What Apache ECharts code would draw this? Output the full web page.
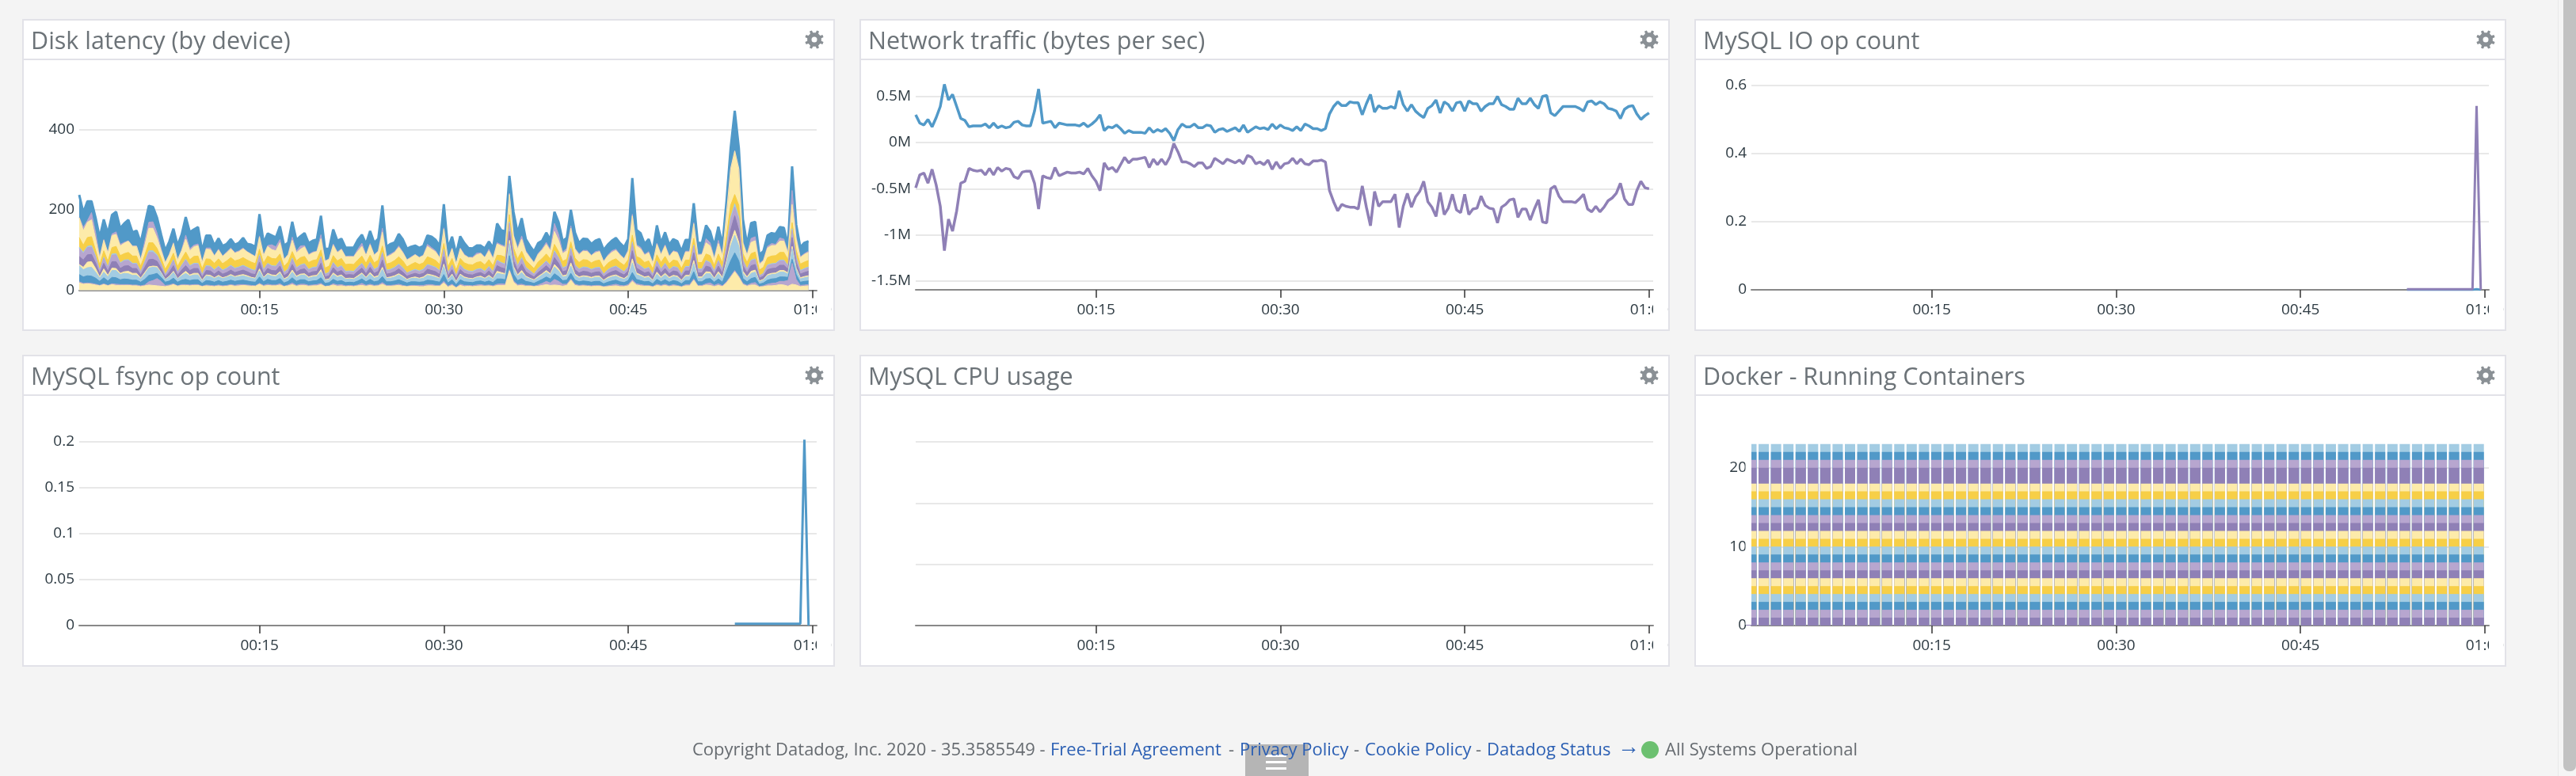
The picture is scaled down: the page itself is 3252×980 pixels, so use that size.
<!DOCTYPE html>
<html><head><meta charset="utf-8"><style>html,body{margin:0;padding:0;background:#f4f4f4;overflow:hidden}#c{width:3252px;height:980px}</style>
<script src="https://cdn.jsdelivr.net/npm/echarts@6/dist/echarts.min.js"></script></head><body><div id="c"></div><script>
const panelTitles=['Disk latency (by device)','Network traffic (bytes per sec)','MySQL IO op count','MySQL fsync op count','MySQL CPU usage','Docker - Running Containers'];
const xTicks=[15,30,45,60];
const diskTotal=[237,193,221,221,180,131,176,141,187,195,154,166,175,144,148,118,164,210,207,180,138,98,121,153,111,138,182,144,151,157,98,136,136,111,129,110,115,127,113,118,130,115,113,108,189,118,141,136,131,159,111,118,170,125,134,142,117,123,126,185,103,103,151,123,128,106,106,106,125,138,115,147,118,128,211,108,115,119,140,126,103,108,111,105,110,136,133,125,110,214,105,133,90,134,117,105,104,111,111,104,121,105,166,149,146,284,195,142,179,127,110,96,117,123,143,125,195,169,122,130,200,143,117,128,127,115,123,127,100,113,123,130,117,107,127,279,150,142,115,127,96,161,117,144,113,127,122,97,125,125,216,117,118,161,146,110,158,113,222,353,446,353,176,113,167,170,88,97,136,142,140,157,155,110,308,163,107,118,122];
const diskL0=[18,15,16,15,13,11,14,11,14,12,12,12,12,11,11,9,11,13,12,11,10,9,11,14,10,12,12,11,12,12,9,11,10,9,11,9,10,12,10,11,12,11,10,10,15,10,12,11,11,13,9,11,14,10,12,12,10,11,11,14,9,10,13,10,11,9,10,9,11,12,10,12,10,11,15,10,10,11,12,10,9,10,10,9,9,11,11,10,10,18,8,12,6,12,9,10,9,10,11,10,11,9,12,12,12,48,20,11,12,10,10,9,10,12,14,12,13,12,10,12,25,12,10,11,10,9,10,10,8,9,10,11,9,9,11,22,13,11,10,10,8,12,10,12,9,11,10,8,11,11,25,10,10,13,12,9,12,9,18,32,46,32,14,10,13,13,8,9,11,11,12,14,13,10,15,13,9,10,11];
const diskL1=[3,2,2,2,2,1,2,1,2,3,2,2,2,2,2,2,2,8,12,18,12,3,2,2,1,2,2,2,2,2,1,2,2,2,2,2,2,2,2,3,2,2,2,1,2,2,3,2,2,3,1,2,4,2,3,3,2,2,3,3,1,1,3,3,3,2,2,2,2,5,2,3,2,2,4,2,2,2,3,2,1,2,2,3,3,3,3,2,2,4,2,3,1,3,3,2,2,3,3,2,2,2,3,4,3,3,3,3,3,2,2,1,3,5,8,6,14,10,5,3,3,3,2,2,2,2,2,2,1,2,3,4,3,2,3,4,3,3,2,2,1,3,2,3,2,3,2,1,3,3,3,2,2,3,6,3,4,2,3,3,3,3,3,2,4,6,1,2,4,6,6,8,9,14,52,14,3,3,3];
const diskL2=[18,16,18,18,15,10,15,11,16,16,12,14,13,12,12,9,14,16,15,13,10,8,10,14,9,11,13,11,12,12,7,11,11,9,11,9,10,11,10,10,11,10,9,9,16,9,12,11,11,13,8,9,13,10,11,11,9,10,10,14,7,8,11,9,10,8,8,8,10,11,9,12,9,10,15,9,9,10,11,10,8,9,9,8,9,11,10,10,8,17,8,11,7,11,9,8,8,9,9,8,10,8,13,12,11,35,17,10,14,10,8,7,9,10,11,10,14,12,9,10,14,10,9,10,10,9,10,10,7,9,10,10,9,8,10,18,11,10,9,10,7,12,9,11,9,10,10,7,10,10,18,9,9,12,11,8,12,9,26,38,44,38,12,9,12,13,6,7,10,11,11,11,11,8,10,12,8,9,9];
const diskL3=[22,18,20,22,15,8,14,10,17,18,13,14,14,12,12,8,13,18,18,14,10,6,10,14,8,11,15,11,12,12,6,11,11,9,10,9,10,11,10,10,11,10,9,8,15,9,12,11,10,13,8,9,14,10,11,12,9,10,10,15,7,7,12,10,11,8,8,8,10,12,9,13,9,10,18,8,9,10,12,10,7,8,9,8,9,12,11,10,8,20,7,11,6,11,9,8,8,9,9,8,11,8,14,12,12,30,14,11,15,10,8,7,9,11,12,10,17,14,9,10,18,11,9,10,10,9,10,10,7,9,10,10,9,8,10,24,12,11,9,10,7,13,9,12,9,10,10,7,10,10,20,9,9,13,12,8,13,9,20,36,44,36,13,9,13,13,6,7,11,11,11,12,12,8,26,12,8,9,10];
const diskL4=[3,6,14,14,9,3,8,4,6,5,3,4,6,5,5,2,4,3,3,3,2,1,2,3,1,3,5,3,4,4,2,3,3,2,3,2,2,3,2,3,3,3,2,2,5,2,3,3,3,4,2,3,5,3,3,3,3,3,3,5,2,2,4,3,3,2,2,2,3,3,2,4,3,3,5,2,3,3,3,3,2,2,3,2,3,3,3,3,2,6,2,3,2,3,3,2,2,2,3,2,3,2,5,4,3,8,5,3,5,3,2,2,3,3,4,3,6,5,3,3,8,4,3,3,3,3,3,3,2,3,3,3,3,2,3,10,4,3,3,3,2,5,3,4,3,3,3,2,3,3,8,3,3,5,4,2,5,3,6,10,12,10,5,3,5,5,2,2,3,3,3,4,4,3,6,4,3,3,3];
const diskL5=[20,18,18,18,14,8,14,10,16,17,12,14,14,12,12,8,13,18,17,13,10,6,10,14,8,11,14,11,12,12,7,11,11,9,11,9,10,11,10,10,11,10,9,9,17,9,12,11,11,14,8,9,14,10,11,12,9,10,10,16,7,8,13,10,11,9,9,9,11,12,9,13,9,11,18,9,9,10,12,10,8,8,9,9,9,12,11,11,9,18,8,11,7,11,9,9,9,9,9,8,11,8,14,12,12,22,14,11,16,11,9,7,10,11,12,10,17,14,10,11,18,11,10,11,11,10,10,11,8,9,10,11,10,9,11,20,12,11,10,11,7,14,10,12,9,11,11,8,11,11,19,10,10,14,12,9,14,10,18,30,36,30,14,10,14,14,7,8,12,12,12,13,13,9,22,14,9,10,11];
const diskL6=[20,16,18,18,14,7,13,9,16,17,12,13,13,11,11,7,12,18,17,13,10,5,9,13,7,10,14,10,11,11,6,10,10,9,10,8,9,10,9,9,10,9,9,8,15,8,11,10,10,12,7,8,13,9,10,11,8,9,9,14,6,7,11,9,10,7,7,7,9,10,8,11,8,9,16,8,8,9,10,9,7,7,8,7,8,10,10,9,8,16,7,10,6,10,8,7,7,8,8,7,9,7,12,11,10,20,14,10,13,9,8,6,8,9,10,9,14,12,8,9,16,10,8,9,9,8,9,9,6,8,9,9,8,7,9,18,11,10,8,9,6,12,8,11,8,9,9,6,9,9,17,8,8,12,10,7,12,8,16,26,22,26,12,8,12,12,5,6,10,10,10,11,11,7,18,12,7,8,9];
const diskL7=[3,3,3,4,3,1,2,2,3,3,2,2,2,2,2,1,2,4,4,3,2,1,2,2,1,2,2,2,2,2,1,2,2,2,2,2,2,2,2,2,2,2,2,2,3,2,2,2,2,2,1,2,3,2,2,2,2,2,2,3,1,2,2,2,2,2,2,2,2,2,2,2,2,2,3,2,2,2,2,2,1,2,2,2,2,2,2,2,2,3,1,2,1,2,2,2,2,2,2,2,2,2,2,2,2,4,3,2,3,2,2,1,2,2,2,2,3,2,2,2,3,2,2,2,2,2,2,2,1,2,2,2,2,1,2,4,2,2,2,2,1,2,2,2,2,2,2,1,2,2,3,2,2,2,2,2,2,2,4,6,8,6,2,2,2,2,1,1,2,2,2,2,2,2,4,2,2,2,2];
const diskL8=[24,18,22,22,14,14,16,14,16,18,18,16,18,18,18,14,16,20,20,16,14,13,14,16,14,16,18,15,17,18,14,17,17,16,18,16,18,19,18,18,19,18,18,17,14,16,18,18,18,16,15,17,16,17,18,18,17,17,18,16,15,15,17,17,18,17,17,17,17,18,16,17,16,17,16,15,16,17,18,17,15,16,17,16,16,19,18,17,15,14,15,16,14,16,16,16,16,17,17,16,17,15,12,17,17,18,15,17,16,17,15,14,16,16,17,16,16,15,16,17,15,17,16,18,18,16,17,18,15,16,17,18,16,16,17,17,16,18,16,16,14,15,16,17,15,16,16,14,16,16,16,16,16,16,17,14,16,16,24,30,23,30,16,16,16,17,14,15,18,19,19,19,19,15,15,16,16,16,16];
const diskL9=[49,36,38,42,28,16,26,20,30,30,24,26,28,24,24,16,24,36,36,26,18,16,18,24,16,20,32,22,24,26,16,24,24,18,22,18,20,22,19,20,22,20,19,17,30,19,24,22,20,28,17,18,28,20,21,24,18,19,20,28,17,17,26,20,22,19,18,19,22,24,19,26,19,21,34,17,19,20,24,20,17,17,19,17,18,26,23,21,16,36,17,24,15,24,19,17,17,19,20,18,22,17,28,24,24,50,30,24,30,21,17,14,19,21,24,20,32,28,19,21,34,22,19,21,21,18,20,21,16,18,20,21,18,16,21,48,26,24,18,20,14,26,19,26,17,21,20,14,20,20,36,18,19,28,24,16,26,18,55,90,108,90,26,18,28,28,14,16,24,26,25,28,28,16,45,28,16,19,20];
const diskL10=[1,8,4,18,16,4,2,2,4,6,4,2,1,1,1,1,10,15,16,12,5,1,2,2,1,2,10,5,4,4,1,3,4,1,2,1,2,2,2,2,2,1,1,1,3,1,2,12,10,8,1,1,8,4,8,3,2,2,1,10,1,1,3,2,2,1,2,1,5,8,1,3,1,2,10,2,3,2,3,2,1,2,1,1,1,5,4,3,1,3,2,2,1,2,2,1,2,4,2,1,4,2,3,3,3,3,3,3,8,3,2,1,2,3,5,3,20,15,4,6,6,2,3,2,3,1,3,2,1,2,4,3,2,1,3,4,3,4,2,3,1,3,2,3,2,2,2,1,2,2,3,2,2,10,8,2,8,2,2,2,1,2,3,2,10,10,3,2,4,5,3,8,5,2,35,5,2,2,3];
const netOut=[.30,.21,.19,.25,.17,.27,.39,.63,.46,.52,.39,.26,.24,.17,.18,.18,.18,.20,.16,.21,.16,.18,.16,.17,.22,.23,.19,.18,.18,.34,.58,.21,.22,.23,.16,.21,.20,.19,.19,.19,.18,.21,.17,.20,.24,.30,.13,.17,.16,.19,.15,.10,.13,.11,.11,.11,.10,.16,.11,.14,.12,.15,.10,.02,.14,.20,.17,.17,.20,.16,.16,.19,.18,.11,.14,.15,.12,.14,.16,.12,.19,.11,.14,.17,.15,.16,.14,.20,.15,.19,.16,.15,.13,.17,.13,.20,.18,.15,.15,.13,.15,.31,.39,.44,.40,.40,.44,.43,.43,.30,.42,.52,.33,.40,.37,.37,.39,.37,.56,.41,.34,.41,.34,.30,.27,.37,.40,.46,.32,.44,.41,.34,.43,.44,.34,.45,.42,.42,.34,.39,.42,.42,.50,.41,.39,.36,.36,.48,.42,.42,.48,.41,.37,.50,.51,.32,.29,.34,.39,.39,.39,.39,.37,.34,.44,.45,.41,.44,.42,.37,.36,.34,.26,.36,.39,.40,.31,.25,.29,.32];
const netIn=[-.49,-.35,-.33,-.44,-.29,-.46,-.69,-1.17,-.83,-.96,-.74,-.44,-.42,-.28,-.30,-.31,-.30,-.35,-.28,-.35,-.27,-.31,-.28,-.29,-.37,-.39,-.32,-.31,-.31,-.44,-.72,-.36,-.38,-.39,-.27,-.36,-.34,-.32,-.33,-.33,-.32,-.34,-.28,-.36,-.42,-.52,-.22,-.29,-.27,-.32,-.24,-.16,-.22,-.18,-.18,-.17,-.16,-.27,-.18,-.24,-.18,-.24,-.16,-.01,-.10,-.21,-.21,-.23,-.26,-.22,-.22,-.28,-.26,-.17,-.20,-.23,-.18,-.20,-.22,-.19,-.23,-.14,-.16,-.23,-.21,-.24,-.19,-.29,-.21,-.28,-.23,-.22,-.17,-.23,-.18,-.23,-.24,-.20,-.20,-.19,-.21,-.52,-.64,-.74,-.67,-.69,-.70,-.70,-.72,-.47,-.70,-.90,-.53,-.69,-.64,-.64,-.64,-.56,-.92,-.69,-.55,-.70,-.59,-.53,-.42,-.64,-.70,-.80,-.54,-.78,-.71,-.56,-.73,-.76,-.56,-.78,-.72,-.71,-.58,-.68,-.71,-.72,-.87,-.70,-.67,-.62,-.61,-.81,-.72,-.72,-.84,-.72,-.62,-.86,-.87,-.50,-.47,-.58,-.64,-.64,-.64,-.65,-.61,-.56,-.72,-.75,-.69,-.75,-.70,-.63,-.60,-.55,-.44,-.61,-.67,-.67,-.52,-.42,-.49,-.50];
const opMinutes=[53.67,54,54.33,54.67,55,55.33,55.67,56,56.33,56.67,57,57.33,57.67,58,58.33,58.67,59,59.33,59.67];
const ioPurple=[.002,.002,.002,.002,.002,.002,.002,.002,.002,.002,.002,.002,.002,.002,.002,.002,.002,.54,0];
const ioBlue=[0,0,0,0,0,0,0,0,0,0,0,0,0,0,0,0,0,.002,0];
const fsyncBlue=[.002,.002,.002,.002,.002,.002,.002,.002,.002,.002,.002,.002,.002,.002,.002,.002,.002,.202,0];
const dockerCounts=[1,1,1,1,1,1,1,1,1,1,1,1,1,1,1,1,1,1,2,1,1,1];

const C={blue:'#5199c8',lblue:'#a3cce3',purple:'#8f80b6',lpurple:'#b7a6cf',yellow:'#f7cf47',lyellow:'#fdebaa'};
const diskColors=[C.lyellow,C.lpurple,C.blue,C.lblue,C.lyellow,C.purple,C.lpurple,C.lblue,C.yellow,C.lyellow,C.lpurple,C.blue];
const dockerColors=[];for(let k=0;k<3;k++)dockerColors.push(C.purple,C.lpurple,C.blue,C.lblue,C.yellow,C.lyellow);dockerColors.push(C.purple,C.lpurple,C.blue,C.lblue);

const T0=0.33,STEP=1/3;
const pts=a=>a.map((v,i)=>[T0+i*STEP,v]);
const panels=[[28,24],[1085,24],[2139,24],[28,448],[1085,448],[2139,448]];
const pw=[1026,1023,1025];
const plotL=[100,1156,2211],plotW=931;
const font='"Open Sans"';
const grids=[
 {left:100,width:plotW,top:112.5,height:254},
 {left:1156,width:plotW,top:92.5,height:262.5},
 {left:2211,width:plotW,top:108,height:258},
 {left:100,width:plotW,top:534.5,height:255.5},
 {left:1156,width:plotW,top:558,height:232},
 {left:2211,width:plotW,top:511,height:279}
];
const xa=(i,offset)=>({type:'value',gridIndex:i,min:T0,max:T0+60,offset:offset||0,position:'bottom',
 axisLine:{onZero:false,show:true,lineStyle:{color:'#888',width:2}},
 axisTick:{show:true,length:10,customValues:xTicks,lineStyle:{color:'#333',width:1.5}},
 axisLabel:{show:true,customValues:xTicks,margin:16,hideOverlap:false,showMinLabel:true,showMaxLabel:true,fontFamily:font,fontSize:19,color:'#2d3a42',
   formatter:v=>{const h=Math.floor(v/60),m=v%60;return String(h).padStart(2,'0')+':'+String(m).padStart(2,'0');}},
 splitLine:{show:false}});
const ya=(i,min,max,interval,hideMax,fmt,noLabel)=>({type:'value',gridIndex:i,min,max,interval,
 axisLine:{show:false},axisTick:{show:false},
 axisLabel:{show:!noLabel,margin:6,fontFamily:font,fontSize:19,color:'#2d3a42',showMaxLabel:!hideMax,formatter:fmt||(v=>String(parseFloat(v.toFixed(2))))},
 splitLine:{show:true,showMaxLine:!hideMax,lineStyle:{color:'#e8e8e8',width:2}}});

const diskLayers=[diskL0,diskL1,diskL2,diskL3,diskL4,diskL5,diskL6,diskL7,diskL8,diskL9,diskL10];
const series=[];
// boundaries of the stack, painted from the top band down so each lower band covers the one above
const diskBoundaries=diskLayers.map((_,k)=>diskTotal.map((_t,i)=>diskLayers.slice(0,k+1).reduce((s,l)=>s+l[i],0)));
diskBoundaries.push(diskTotal);
for(let k=diskBoundaries.length-1;k>=0;k--){
  series.push({type:'line',xAxisIndex:0,yAxisIndex:0,data:pts(diskBoundaries[k]),symbol:'none',silent:true,
   lineStyle:{color:diskColors[k],width:k==11?3:1},areaStyle:{color:diskColors[k],opacity:1,origin:'start'},itemStyle:{color:diskColors[k]},z:2});
}
series.push({type:'line',xAxisIndex:1,yAxisIndex:1,data:pts(netOut),symbol:'none',lineStyle:{color:C.blue,width:3.5}});
series.push({type:'line',xAxisIndex:1,yAxisIndex:1,data:pts(netIn),symbol:'none',lineStyle:{color:C.purple,width:3.5}});
const opPts=a=>a.map((v,i)=>[opMinutes[i],v]);
series.push({type:'line',xAxisIndex:2,yAxisIndex:2,data:opPts(ioBlue),symbol:'none',lineStyle:{color:C.blue,width:3}});
series.push({type:'line',xAxisIndex:2,yAxisIndex:2,data:opPts(ioPurple),symbol:'none',lineStyle:{color:C.purple,width:3}});
series.push({type:'line',xAxisIndex:3,yAxisIndex:3,data:opPts(fsyncBlue),symbol:'none',lineStyle:{color:C.blue,width:3}});
series.push({type:'line',xAxisIndex:4,yAxisIndex:4,data:[],symbol:'none'});
for(let k=dockerCounts.length-1;k>=0;k--){
  const top=dockerCounts.slice(0,k+1).reduce((s,c)=>s+c,0);
  const d=[];for(let j=0;j<60;j++)d.push([T0+j*1.003,top]);
  series.push({type:'bar',xAxisIndex:5,yAxisIndex:5,data:d,barWidth:13,barGap:'-100%',itemStyle:{color:dockerColors[k]},silent:true});
}

const gearOutline=[];
for(let k=0;k<8;k++){const a=k*Math.PI/4-Math.PI/8;
  [[-.2,9],[-.13,12],[.13,12],[.2,9]].forEach(q=>gearOutline.push([Math.sin(a+q[0])*q[1],-Math.cos(a+q[0])*q[1]]));}
const g=[];
const border='#e2e2e8';
panels.forEach((p,i)=>{const w=pw[i%3],x=p[0],y=p[1];
  g.push({type:'rect',z:-5,shape:{x:x+1,y:y+1,width:w-2,height:392},style:{fill:'#fff',stroke:border,lineWidth:2}});
  g.push({type:'rect',z:-4,shape:{x:x+2,y:y+50,width:w-4,height:2},style:{fill:border}});
  const gx=[1028,2082,3138][i%3],gy=y+26;
  g.push({type:'polygon',z:5,shape:{points:gearOutline.map(q=>[gx+q[0],gy+q[1]])},style:{fill:'#8a9095'}});
  g.push({type:'circle',z:6,shape:{cx:gx,cy:gy,r:3.5},style:{fill:'#fff'}});
  g.push({type:'rect',z:50,shape:{x:plotL[i%3]+plotW,y:y+352,width:18,height:30},style:{fill:'#fff'}});
});
// the first docker bar is centred on the plot's left edge: mask the part that falls outside the plot
g.push({type:'rect',z:50,shape:{x:2203.5,y:556,width:7.5,height:233},style:{fill:'#fff'}});
const tx=(x,text,fill,size,y)=>({type:'text',z:6,x,y:y||948,style:{text,fill,font:(size||22)+'px '+font,verticalAlign:'middle'}});
const LINK='#2b5fb3',GREY='#666b70';
g.push({type:'rect',z:4,shape:{x:1572,y:940,width:80,height:40},style:{fill:'#b5b5b5'}});
[953,961,969].forEach(y=>{g.push({type:'rect',z:5,shape:{x:1598,y:y,width:26,height:3},style:{fill:'#fff'}});});
g.push(tx(874,'Copyright Datadog, Inc. 2020 - 35.3585549 -',GREY));
g.push(tx(1326,'Free-Trial Agreement',LINK));g.push(tx(1551,'-',GREY));
g.push(tx(1565,'Privacy Policy',LINK));g.push(tx(1709,'-',GREY));
g.push(tx(1723,'Cookie Policy',LINK));g.push(tx(1863,'-',GREY));
g.push(tx(1877,'Datadog Status',LINK));g.push(tx(2042,'→',LINK,28,944));
g.push({type:'circle',z:6,shape:{cx:2083,cy:947,r:11},style:{fill:'#6cc070'}});
g.push(tx(2102,'All Systems Operational',GREY));
g.push({type:'rect',z:1,shape:{x:3229,y:0,width:23,height:980},style:{fill:'#f5f5f5'}});
g.push({type:'rect',z:1,shape:{x:3229,y:0,width:1,height:980},style:{fill:'#e8e8e8'}});
g.push({type:'rect',z:2,shape:{x:3236,y:-10,width:16,height:984,r:7},style:{fill:'#c2c2c2'}});

const chart=echarts.init(document.getElementById('c'));
chart.setOption({animation:false,backgroundColor:'#f4f4f4',
 title:panels.map((p,i)=>({text:panelTitles[i],left:p[0]+6,top:p[1]+9,textStyle:{fontFamily:font,fontSize:30.5,fontWeight:'normal',color:'#6c7378'}})),
 grid:grids,
 xAxis:[xa(0),xa(1,11),xa(2),xa(3),xa(4),xa(5)],
 yAxis:[ya(0,0,500,200,true),
  ya(1,-1.5,.75,.5,true,v=>parseFloat(v.toFixed(2))+'M'),
  ya(2,0,.6,.2,false),
  ya(3,0,.22,.05,true),
  ya(4,0,3,1,false,null,true),
  ya(5,0,28,10,true)],
 series,graphic:{elements:g}});
</script></body></html>
